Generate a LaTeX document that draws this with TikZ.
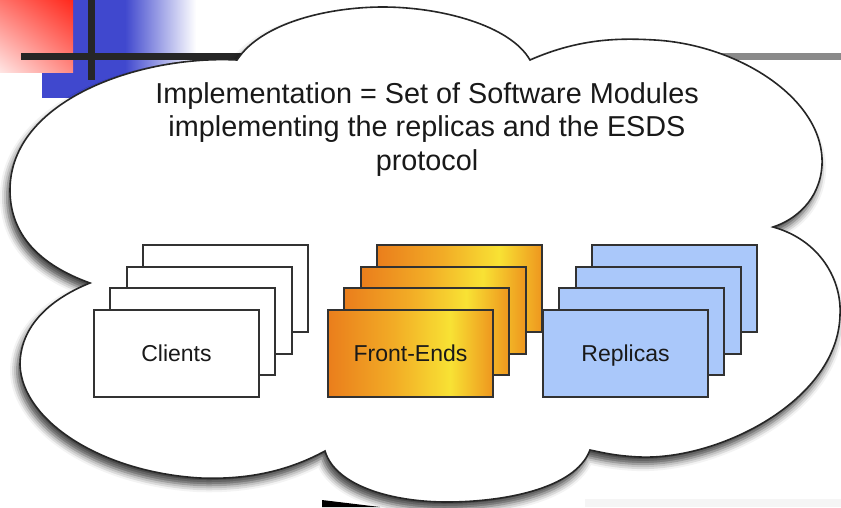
\documentclass[tikz,border=0pt]{standalone}
\usepackage{fontspec}
\setmainfont{Liberation Sans}
\usetikzlibrary{shadows.blur,shadings}

\definecolor{slideblue}{RGB}{64,72,206}
\definecolor{slidered}{RGB}{255,40,28}
\definecolor{barline}{RGB}{38,38,38}
\definecolor{greyline}{RGB}{138,138,138}
\definecolor{repblue}{RGB}{170,200,250}
\definecolor{feA}{RGB}{234,126,28}
\definecolor{feB}{RGB}{242,172,38}
\definecolor{feC}{RGB}{248,226,52}
\definecolor{feD}{RGB}{238,150,30}
\definecolor{edge}{RGB}{50,50,50}

% orange-to-yellow fill of the front-end cards
\pgfdeclarehorizontalshading{frontend}{100bp}{color(0bp)=(feA); color(25bp)=(feA); color(45bp)=(feB); color(62bp)=(feC); color(75bp)=(feD); color(100bp)=(feD)}

\begin{document}
\begin{tikzpicture}[x=1pt,y=-1pt,
  card/.style={draw=edge, line width=1.8pt, minimum width=165pt, minimum height=87pt,
    inner sep=0pt, font=\fontsize{23}{26}\selectfont, text=black!90},
  clientcard/.style={card, fill=white},
  fecard/.style={card, shade, shading=frontend},
  repcard/.style={card, fill=repblue},
  cloudshape/.style={draw=black!85, line width=1.6pt, fill=white,
    blur shadow={shadow xshift=-3pt, shadow yshift=-7pt, shadow blur radius=7pt, shadow opacity=75}},
]
\useasboundingbox (0,0) rectangle (841,507);

% slide decoration behind the cloud
\fill[slideblue] (42,0) rectangle (126,98);
\shade[left color=slideblue, right color=white] (125,0) rectangle (196,98);
\shade[lower left=slidered!12, upper right=slidered, upper left=slidered!65, lower right=slidered!55]
  (0,0) rectangle (73,72);
\fill[barline] (88,0) rectangle (95,80);
\fill[barline] (21,53) rectangle (245,60);
\fill[greyline] (700,53) rectangle (841,60);
\fill[black!4] (585,499) rectangle (841,507);

% the cloud
\path[cloudshape] (237,60)
  .. controls (262,22) and (330,7) .. (383,7)
  .. controls (440,7) and (510,25) .. (530,60)
  .. controls (580,38) and (620,38) .. (655,40)
  .. controls (740,45) and (825,100) .. (822,165)
  .. controls (820,200) and (795,220) .. (773,227)
  .. controls (820,240) and (842,280) .. (840,315)
  .. controls (838,400) and (720,460) .. (640,457)
  .. controls (615,456) and (600,452) .. (590,450)
  .. controls (575,490) and (500,502) .. (447,502)
  .. controls (390,502) and (335,485) .. (325,451)
  .. controls (290,470) and (250,480) .. (200,478)
  .. controls (100,472) and (22,420) .. (20,365)
  .. controls (20,320) and (60,295) .. (90,283)
  .. controls (40,265) and (10,235) .. (10,190)
  .. controls (10,100) and (140,55) .. (237,60) -- cycle;

\fill[black] (322,500) -- (380,507) -- (322,507) -- cycle;

% caption
\node[font=\fontsize{28.8}{33.5}\selectfont, align=center, text=black!90] (title) at (427,129.5)
  {Implementation = Set of Software Modules\\implementing the replicas and the ESDS\\protocol};

% stacks of cards, back to front
\foreach \i in {3,2,1} {
  \node[clientcard] (cl\i) at ({176.5+16.3*\i},{353.5-21.7*\i}) {};
}
\node[clientcard] (cl0) at (176.5,353.5) {Clients};

\foreach \i in {3,2,1} {
  \node[fecard] (fe\i) at ({410.5+16.3*\i},{353.5-21.7*\i}) {};
}
\node[fecard] (fe0) at (410.5,353.5) {Front-Ends};

\foreach \i in {3,2,1} {
  \node[repcard] (rp\i) at ({625.5+16.3*\i},{353.5-21.7*\i}) {};
}
\node[repcard, text depth=0pt] (rp0) at (625.5,353.5) {Replicas};
\end{tikzpicture}
\end{document}
